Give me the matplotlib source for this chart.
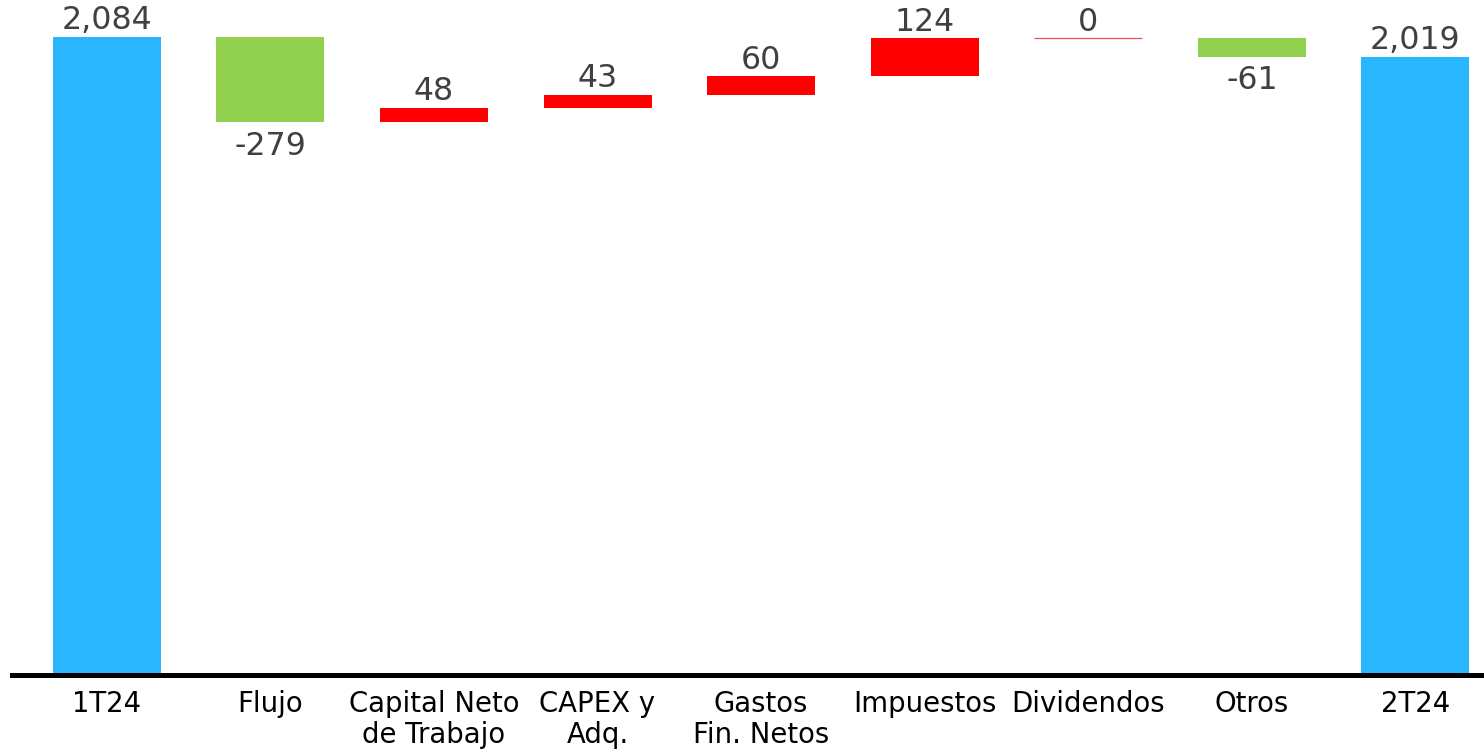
import numpy as np
import matplotlib
matplotlib.use("Agg")
from matplotlib import pyplot as plt

# datos del puente 1T24 -> 2T24
categorias = ['1T24', 'Flujo', 'Capital Neto\nde Trabajo', 'CAPEX y\nAdq.',
              'Gastos\nFin. Netos', 'Impuestos', 'Dividendos', 'Otros', '2T24']
valores = [2084, -279, 48, 43, 60, 124, 0, -61, 2019]
es_total = [True, False, False, False, False, False, False, False, True]

azul = '#29B6FF'
verde = '#92D050'
rojo = '#FF0000'
gris_txt = '#404040'

fig = plt.figure(figsize=(14.84, 7.51), dpi=100)
ax = fig.add_axes([12 / 1484, 76 / 751, 1 - 12 / 1484, 1 - 76 / 751])

x = np.arange(len(categorias))
ancho = 0.66
acum = 0
for i, (v, tot) in enumerate(zip(valores, es_total)):
    if tot:
        base, alto, color = 0, v, azul
        acum = v
    else:
        base, alto = acum, v
        color = rojo if v > 0 else verde
        acum += v
    if v == 0 and not tot:
        # sin variacion: solo una linea fina
        ax.hlines(acum, i - ancho / 2, i + ancho / 2, color='#F05050', lw=0.9)
    else:
        ax.bar(i, alto, ancho, bottom=base, color=color, edgecolor='none')
    txt = f'{v:,}'
    if v >= 0:
        ax.annotate(txt, (i, max(base, base + alto)), xytext=(0, 0.5),
                    textcoords='offset points', ha='center', va='bottom',
                    fontsize=22.8, color=gris_txt)
    else:
        ax.annotate(txt, (i, base + alto), xytext=(0, -6),
                    textcoords='offset points', ha='center', va='top',
                    fontsize=22.8, color=gris_txt)

ax.set_xlim(-0.58, 8.42)
ax.set_ylim(0, 2205)
ax.set_xticks(x)
ax.set_xticklabels(categorias, fontsize=19.8, color='black', linespacing=1.12)
ax.tick_params(axis='x', length=0, pad=11)
ax.set_yticks([])
for s in ['top', 'left', 'right']:
    ax.spines[s].set_visible(False)
ax.spines['bottom'].set_linewidth(3.6)
ax.spines['bottom'].set_color('black')

fig.savefig('out.png', dpi=100)
